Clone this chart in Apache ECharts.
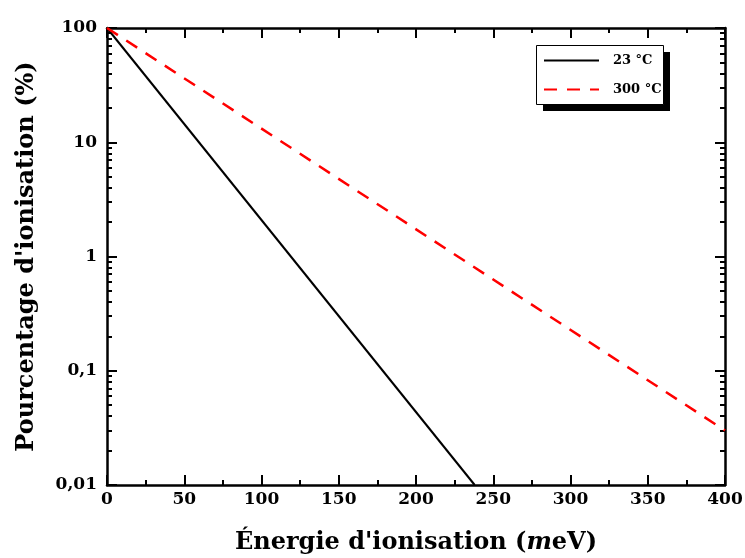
<!DOCTYPE html>
<html><head><meta charset="utf-8">
<script src="https://cdn.jsdelivr.net/npm/echarts@6/dist/echarts.min.js"></script>
<style>html,body{margin:0;padding:0;background:#fff}#c{width:745px;height:558px}</style>
</head><body><div id="c"></div>
<script>
const energy23 = [0, 238];
const pct23 = [100, 0.01];
const energy300 = [0, 400];
const pct300 = [100, 0.03];
const seriesNames = ['23 °C', '300 °C'];
const yMajorTicks = [0.01, 0.1, 1, 10, 100];
const yMinorTicks = [];
[0.01, 0.1, 1, 10].forEach(d => { for (let k = 2; k <= 9; k++) yMinorTicks.push(+(d * k).toPrecision(3)); });

const FONT = 'DejaVu Serif';
const chart = echarts.init(document.getElementById('c'), null, {renderer: 'canvas'});
function yAxisDef(pos, ticks, len, showLabel, showLine) {
  return {
    type: 'log', logBase: 10, min: 0.01, max: 100, position: pos,
    axisLine: {show: showLine, lineStyle: {color: '#000', width: 2.5}},
    axisTick: {show: true, inside: true, length: len, customValues: ticks, lineStyle: {color: '#000', width: 2}},
    minorTick: {show: false},
    splitLine: {show: false},
    axisLabel: {show: showLabel, margin: 10, color: '#000', fontFamily: FONT, fontWeight: 'bold', fontSize: 17,
      customValues: yMajorTicks,
      formatter: v => String(v).replace('.', ',')}
  };
}
function xAxisDef(pos, showLabel) {
  return {
    type: 'value', min: 0, max: 400, interval: 50, position: pos,
    axisLine: {show: true, onZero: false, lineStyle: {color: '#000', width: 2.5}},
    axisTick: {show: true, inside: true, length: 10, lineStyle: {color: '#000', width: 2}},
    minorTick: {show: true, splitNumber: 2, length: 5, lineStyle: {color: '#000', width: 2}},
    splitLine: {show: false},
    axisLabel: {show: showLabel, margin: 6, color: '#000', fontFamily: FONT, fontWeight: 'bold', fontSize: 17}
  };
}
const xa0 = xAxisDef('bottom', true);
xa0.name = '{n|Énergie d\'ionisation (}{i|m}{n|eV)}';
xa0.nameLocation = 'middle';
xa0.nameGap = 46;
xa0.nameTextStyle = {rich: {
  n: {fontFamily: FONT, fontWeight: 'bold', fontSize: 24, color: '#000'},
  i: {fontFamily: FONT, fontWeight: 'bold', fontStyle: 'italic', fontSize: 24, color: '#000'}
}};
const ya0 = yAxisDef('left', yMajorTicks, 10, true, true);
ya0.name = 'Pourcentage d\'ionisation (%)';
ya0.nameLocation = 'middle';
ya0.nameGap = 68;
ya0.nameTextStyle = {fontFamily: FONT, fontWeight: 'bold', fontSize: 24, color: '#000'};

chart.setOption({
  animation: false,
  backgroundColor: '#fff',
  grid: {left: 107, right: 20, top: 28, bottom: 73, containLabel: false, outerBoundsMode: 'none'},
  xAxis: [xa0, xAxisDef('top', false)],
  yAxis: [
    ya0,
    yAxisDef('left', yMinorTicks, 5, false, false),
    yAxisDef('right', yMajorTicks, 10, false, true),
    yAxisDef('right', yMinorTicks, 5, false, false)
  ],
  graphic: [
    {type: 'rect', left: 543, top: 52, z: 10, shape: {width: 127, height: 59}, style: {fill: '#000'}},
    {type: 'rect', left: 536, top: 45, z: 11, shape: {width: 127, height: 59}, style: {fill: '#fff', stroke: '#000', lineWidth: 1}}
  ],
  legend: {
    orient: 'vertical', left: 536, top: 45, z: 20,
    data: seriesNames,
    itemWidth: 55, itemHeight: 14, itemGap: 16,
    padding: [9, 6, 9, 7],
    itemStyle: {opacity: 0},
    textStyle: {fontFamily: FONT, fontWeight: 'bold', fontSize: 13, color: '#000', padding: [0, 0, 0, 9]}
  },
  series: [
    {name: seriesNames[0], type: 'line', xAxisIndex: 0, yAxisIndex: 0, symbol: 'none',
     data: energy23.map((e, i) => [e, pct23[i]]),
     lineStyle: {color: '#000', width: 2, type: 'solid'}, itemStyle: {color: '#000'}},
    {name: seriesNames[1], type: 'line', xAxisIndex: 0, yAxisIndex: 0, symbol: 'none',
     data: energy300.map((e, i) => [e, pct300[i]]),
     lineStyle: {color: '#ff0000', width: 2.5, type: [13, 10]}, itemStyle: {color: '#ff0000'}}
  ]
});
</script></body></html>
